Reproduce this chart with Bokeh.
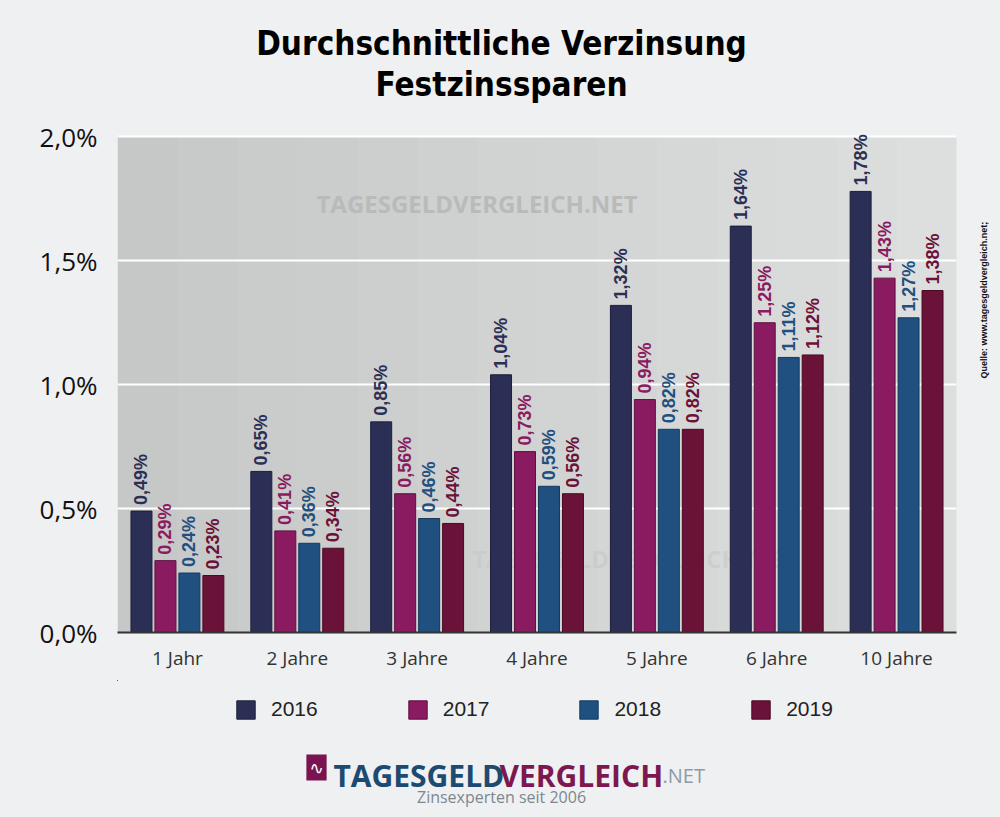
import math
from bokeh.plotting import figure
from bokeh.layouts import column
from bokeh.models import (ColumnDataSource, FactorRange, Range1d, FixedTicker, Legend, LegendItem,
                          Label, BoxAnnotation, LinearAxis)
from bokeh.transform import dodge
from bokeh.core.properties import value
from bokeh.embed import file_html
from bokeh.resources import INLINE

categories = ["1 Jahr", "2 Jahre", "3 Jahre", "4 Jahre", "5 Jahre", "6 Jahre", "10 Jahre"]
years = ["2016", "2017", "2018", "2019"]
v2016 = [0.49, 0.65, 0.85, 1.04, 1.32, 1.64, 1.78]
v2017 = [0.29, 0.41, 0.56, 0.73, 0.94, 1.25, 1.43]
v2018 = [0.24, 0.36, 0.46, 0.59, 0.82, 1.11, 1.27]
v2019 = [0.23, 0.34, 0.44, 0.56, 0.82, 1.12, 1.38]
y_ticks = [0.0, 0.5, 1.0, 1.5, 2.0]
y_tick_labels = ["0,0%", "0,5%", "1,0%", "1,5%", "2,0%"]
title_lines = ["Durchschnittliche Verzinsung", "Festzinssparen"]
source_note = "Quelle: www.tagesgeldvergleich.net;"

colors = ["#2c2f55", "#8a1b60", "#1f5080", "#6b1238"]
outline = ["#1c1e3a", "#5e1042", "#143a5e", "#480a25"]
offsets = [-0.3, -0.1, 0.1, 0.3]
series = [v2016, v2017, v2018, v2019]
PAGE = "#eff0f1"
W = 1000
BL, BR = 117, 44          # frame borders (left / right), shared by all three figures

def fmt(v):
    return ("%.2f" % v).replace(".", ",") + "%"

data = {"cat": categories}
for y, s in zip(years, series):
    data[y] = s
    data[y + "_lbl"] = [fmt(v) for v in s]
src = ColumnDataSource(data)

def blank(height, y0, y1):
    f = figure(width=W, height=height, x_range=Range1d(BL, W - BR), y_range=Range1d(y0, y1),
               x_axis_location=None, y_axis_location=None, output_backend="svg",
               toolbar_location=None, min_border_left=BL, min_border_right=BR,
               min_border_top=0, min_border_bottom=0)
    f.grid.visible = False
    f.outline_line_color = None
    f.background_fill_color = PAGE
    f.border_fill_color = PAGE
    return f

# ---------- title figure (data coords = page pixels) ----------
TH = 113
t = blank(TH, TH, 0)
for txt, yy in zip(title_lines, [43, 84]):
    t.add_layout(Label(x=501, y=yy, text=txt,
                       text_font="Liberation Sans Narrow, DejaVu Sans Condensed, sans-serif",
                       text_font_style="bold", text_font_size="33px", text_color="#000000",
                       text_align="center", text_baseline="middle"))

# ---------- main figure ----------
MH = 567
p = figure(x_range=FactorRange(*categories, range_padding=0), y_range=Range1d(0, 2.05),
           width=W, height=MH, output_backend="svg", toolbar_location=None,
           min_border_left=BL, min_border_right=BR, min_border_top=11, min_border_bottom=48)
p.background_fill_color = PAGE
p.border_fill_color = PAGE
p.outline_line_color = None

# plot-area background: soft horizontal gradient (darker left, lighter right)
n_bands = 14
c0, c1 = (198, 199, 199), (221, 222, 222)
for i in range(n_bands):
    f_ = i / (n_bands - 1)
    col = "#%02x%02x%02x" % tuple(int(round(a + (b_ - a) * f_)) for a, b_ in zip(c0, c1))
    p.add_layout(BoxAnnotation(bottom=0, top=2.0, left=i * 7 / n_bands, right=(i + 1) * 7 / n_bands + 0.01,
                               fill_color=col, fill_alpha=1, line_color=None, level="image"))

# watermarks
p.add_layout(Label(x=3.0, y=1.73, text="TAGESGELDVERGLEICH.NET", text_font="Open Sans",
                   text_font_style="bold", text_font_size="24px", text_color="#b9baba",
                   text_align="center", text_baseline="middle", level="underlay"))
p.add_layout(Label(x=4.3, y=0.3, text="TAGESGELDVERGLEICH.NET", text_font="Open Sans",
                   text_font_style="bold", text_font_size="24px", text_color="#c4c4c4",
                   text_alpha=0.5, text_align="center", text_baseline="middle", level="underlay"))

for y, c, oc, off in zip(years, colors, outline, offsets):
    p.vbar(x=dodge("cat", off, range=p.x_range), top=y, width=0.175, source=src,
           fill_color=c, line_color=oc, line_width=1)
    p.text(x=dodge("cat", off, range=p.x_range), y=y, text=y + "_lbl", source=src,
           angle=math.pi / 2, text_align="left", text_baseline="middle", y_offset=-6,
           text_font=value("Liberation Sans"), text_font_style="bold", text_font_size="18px",
           text_color=c)

p.ygrid.ticker = FixedTicker(ticks=y_ticks)
p.ygrid.grid_line_color = "white"
p.ygrid.grid_line_width = 2
p.xgrid.grid_line_color = None

p.yaxis.ticker = FixedTicker(ticks=y_ticks)
p.yaxis.major_label_overrides = {t_: l for t_, l in zip(y_ticks, y_tick_labels)}
p.yaxis.axis_line_color = None
p.yaxis.major_tick_line_color = None
p.yaxis.minor_tick_line_color = None
p.yaxis.major_label_text_font = "Open Sans"
p.yaxis.major_label_text_font_size = "26px"
p.yaxis.major_label_text_color = "#111111"
p.yaxis.major_label_standoff = 14

p.xaxis.axis_line_color = "#333333"
p.xaxis.axis_line_width = 2
p.xaxis.major_tick_line_color = None
p.xaxis.minor_tick_line_color = None
p.xaxis.major_label_text_font = "Open Sans"
p.xaxis.major_label_text_font_size = "19px"
p.xaxis.major_label_text_color = "#333333"
p.xaxis.major_label_standoff = 6

ra = LinearAxis(axis_label=source_note, ticker=FixedTicker(ticks=[]), axis_line_color=None,
                major_tick_line_color=None, minor_tick_line_color=None,
                major_label_standoff=0, axis_label_standoff=27,
                axis_label_text_font="Liberation Sans", axis_label_text_font_style="bold",
                axis_label_text_font_size="9px", axis_label_text_color="#111111",
                axis_label_orientation=math.pi / 2)
p.add_layout(ra, "right")

# ---------- bottom figure: legend and logo (data coords = page pixels) ----------
TOP_B = TH + MH
BH = 817 - TOP_B
b = blank(BH, 817, TOP_B)

dummy = ColumnDataSource(data=dict(x=[0], top=[0]))
items = []
for y, c, oc in zip(years, colors, outline):
    r = b.vbar(x="x", top="top", width=1, source=dummy, fill_color=c, line_color=oc)
    items.append(LegendItem(label=y, renderers=[r]))
legend = Legend(items=items, orientation="horizontal", location=(234 - BL, 817 - 721),
                glyph_width=23, glyph_height=23, label_standoff=14, spacing=88,
                label_text_font="Liberation Sans", label_text_font_size="21px",
                label_text_color="#222222", background_fill_alpha=0, border_line_color=None,
                margin=0, padding=0)
b.add_layout(legend)

b.add_layout(Label(x=316, y=767, text="\u223F", text_font="DejaVu Sans", text_font_size="17px",
                   text_color="white", background_fill_color="#7a1450",
                   text_align="center", text_baseline="middle", padding=3))
b.add_layout(Label(x=333, y=775, text="TAGESGELD", text_font="Open Sans",
                   text_font_style="bold", text_font_size="30px", text_color="#1c4a70",
                   text_align="left", text_baseline="alphabetic"))
b.add_layout(Label(x=499, y=775, text="VERGLEICH", text_font="Open Sans",
                   text_font_style="bold", text_font_size="30px", text_color="#7d1750",
                   text_align="left", text_baseline="alphabetic"))
b.add_layout(Label(x=662, y=775, text=".NET", text_font="Open Sans",
                   text_font_size="20px", text_color="#8e9aa8",
                   text_align="left", text_baseline="alphabetic"))
b.add_layout(Label(x=501, y=796, text="Zinsexperten seit 2006", text_font="Open Sans",
                   text_font_size="16px", text_color="#7d8790",
                   text_align="center", text_baseline="alphabetic"))

layout = column(t, p, b, spacing=0, styles={"background-color": PAGE})
open("out.html", "w").write(file_html(layout, INLINE))
